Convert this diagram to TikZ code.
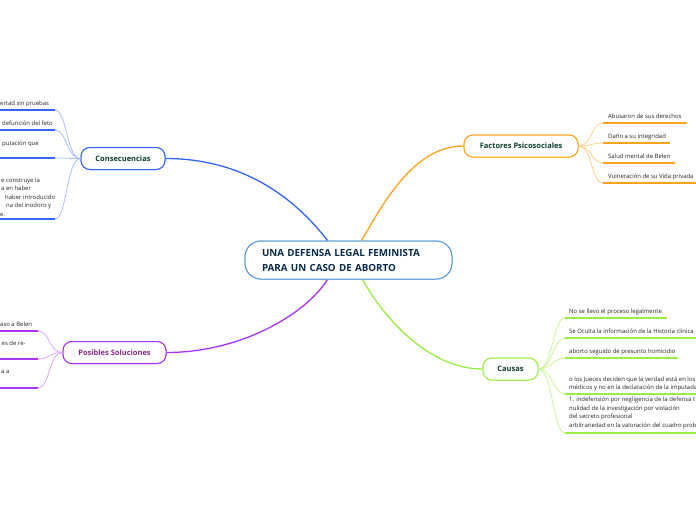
\documentclass[tikz,border=0pt]{standalone}
\usepackage{fontspec}
\setmainfont{Open Sans}
\usetikzlibrary{calc}
\definecolor{cblue}{HTML}{3366FF}
\definecolor{cblueL}{HTML}{A9BEFF}
\definecolor{corange}{HTML}{FFA31A}
\definecolor{corangeL}{HTML}{FFD08A}
\definecolor{cpurple}{HTML}{A833F0}
\definecolor{cpurpleL}{HTML}{D9A8FF}
\definecolor{cgreen}{HTML}{99EE44}
\definecolor{cgreenL}{HTML}{C8F59A}
\definecolor{ccenter}{HTML}{5B9BD5}
\definecolor{navy}{HTML}{0B2B4C}
\definecolor{dgreen}{HTML}{0E3D2C}
\definecolor{ptext}{HTML}{8A2A8A}
\definecolor{ltext}{HTML}{222222}
\tikzset{
  rootbox/.style={draw=ccenter, line width=1pt, rounded corners=16pt, fill=white,
    text width=173pt, inner xsep=17pt, minimum height=38pt, align=left, text=navy,
    font=\bfseries\fontsize{9.8}{15}\selectfont},
  mainbox/.style={line width=1pt, rounded corners=9pt, fill=white, text=dgreen,
    minimum height=22pt, inner sep=0pt, font=\bfseries\fontsize{7.5}{9}\selectfont},
  leaf/.style={anchor=base west, inner sep=0pt, text=ltext, align=left,
    font=\fontsize{5.95}{8.5}\selectfont},
  uline/.style={line width=1.6pt},
  twig/.style={line width=0.8pt},
  mainline/.style={line width=1.3pt}
}
\begin{document}
\begin{tikzpicture}[x=1pt,y=-1pt]
\useasboundingbox (0,0) rectangle (696,520);

% main connectors
\path (348.5,260) node[rootbox] (root) {UNA DEFENSA LEGAL FEMINISTA\\PARA UN CASO DE ABORTO}
  (123,158.5) node[mainbox, draw=cblue, minimum width=84pt] (cons) {Consecuencias}
  (521,146) node[mainbox, draw=corange, minimum width=114pt] (fac) {Factores Psicosociales}
  (114.5,352.5) node[mainbox, draw=cpurple, text=ptext, minimum width=103pt] (pos) {Posibles Soluciones}
  (510.5,369) node[mainbox, draw=cgreen, minimum width=55pt] (cau) {Causas};

\coordinate (rtl) at ($(root.north)+(-21,0)$);
\coordinate (rtr) at ($(root.north)+(13,0)$);
\coordinate (rbl) at ($(root.south)+(-21,0)$);
\coordinate (rbr) at ($(root.south)+(14,0)$);

\draw[mainline, cblue] (cons.east) .. controls (250,158.5) and (300,205) .. (rtl);
\draw[mainline, corange] (rtr) .. controls (385,200) and (415,146) .. (fac.west);
\draw[mainline, cpurple] (rbl) .. controls (305,315) and (240,352.5) .. (pos.east);
\draw[mainline, cgreen] (rbr) .. controls (385,320) and (430,369) .. (cau.west);

% redraw boxes on top of the connector ends
\node[rootbox] at (root) {UNA DEFENSA LEGAL FEMINISTA\\PARA UN CASO DE ABORTO};
\node[mainbox, draw=cblue, minimum width=84pt] at (cons) {Consecuencias};
\node[mainbox, draw=corange, minimum width=114pt] at (fac) {Factores Psicosociales};
\node[mainbox, draw=cpurple, text=ptext, minimum width=103pt] at (pos) {Posibles Soluciones};
\node[mainbox, draw=cgreen, minimum width=55pt] at (cau) {Causas};

% Factores leaves
\coordinate (f1) at (603,123); \coordinate (f2) at (603,143);
\coordinate (f3) at (603,163); \coordinate (f4) at (603,183);
\foreach \c in {f1,f2,f3,f4}
  \draw[twig, corangeL] (fac.east) .. controls +(14,0) and +(-12,0) .. (\c);
\draw[uline, corange] (f1) -- ++(84,0);
\draw[uline, corange] (f2) -- ++(67,0);
\draw[uline, corange] (f3) -- ++(72,0);
\draw[uline, corange] (f4) -- ++(95,0);
\node[leaf] (ft1) at (608,118.5) {Abusaron de sus derechos};
\node[leaf] (ft2) at (608,138.5) {Daño a su integridad};
\node[leaf] (ft3) at (608,158.5) {Salud mental de Belen};
\node[leaf] (ft4) at (608,178.5) {Vulneración de su Vida privada};

% Causas leaves
\coordinate (c1) at (565,318); \coordinate (c2) at (565,338);
\coordinate (c3) at (565,358); \coordinate (c4) at (565,394);
\coordinate (c5) at (565,433);
\foreach \c in {c1,c2,c3,c4,c5}
  \draw[twig, cgreenL] (cau.east) .. controls +(14,0) and +(-12,0) .. (\c);
\draw[uline, cgreen] (c1) -- ++(102,0);
\draw[uline, cgreen] (c2) -- ++(140,0);
\draw[uline, cgreen] (c3) -- ++(113,0);
\draw[uline, cgreen] (c4) -- ++(140,0);
\draw[uline, cgreen] (c5) -- ++(140,0);
\node[leaf] (ct1) at (569,313.5) {No se llevo el proceso legalmente};
\node[leaf] (ct2) at (569,333.5) {Se Oculta la información de la Historia clinica};
\node[leaf] (ct3) at (569,353.5) {aborto seguido de presunto homicidio};
\node[leaf] (ct4) at (569,389.5) {o los Jueces deciden que la verdad está en los\\médicos y no en la declaración de la imputada};
\node[leaf] (ct5) at (569,427) {1. indefensión por negligencia de la defensa t\\nulidad de la investigación por violación\\del secreto profesional\\arbitrariedad en la valoración del cuadro prob};

% Consecuencias leaves
\coordinate (k1) at (55,110); \coordinate (k2) at (55,130);
\coordinate (k3) at (55,158); \coordinate (k4) at (55,219);
\foreach \c in {k1,k2,k3,k4}
  \draw[twig, cblueL] (cons.west) .. controls +(-14,0) and +(12,0) .. (\c);
\foreach \c in {k1,k2,k3,k4}
  \draw[uline, cblue] (\c) -- ++(-60,0);
\node[leaf] (kt1) at (0,105) {ertad sin pruebas};
\node[leaf] (kt2) at (2,125) {defunción del feto};
\node[leaf] (kt3) at (2,145) {putación que};
\node[leaf] (kt4) at (1,216) {e construye la\\a en haber\\\hspace*{4pt}haber introducido\\\hspace*{5pt}na del inodoro y\\\hspace*{-1pt}e.};

% Posibles leaves
\coordinate (p1) at (38,331); \coordinate (p2) at (38,359);
\coordinate (p3) at (38,388);
\foreach \c in {p1,p2,p3}
  \draw[twig, cpurpleL] (pos.west) .. controls +(-14,0) and +(12,0) .. (\c);
\foreach \c in {p1,p2,p3}
  \draw[uline, cpurple] (\c) -- ++(-45,0);
\node[leaf] (pt1) at (0,326) {aso a Belen};
\node[leaf] (pt2) at (1.5,345) {es de re-};
\node[leaf] (pt3) at (1,373) {a a};
\end{tikzpicture}
\end{document}
